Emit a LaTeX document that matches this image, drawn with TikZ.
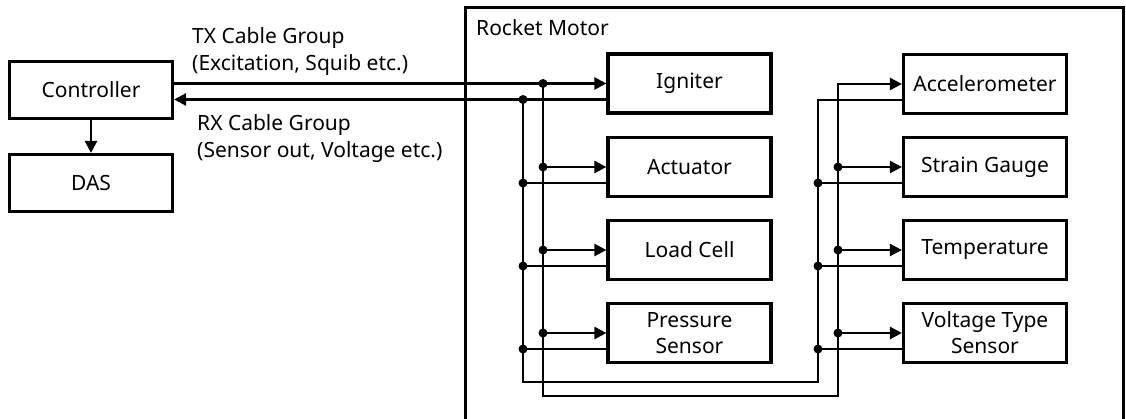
\documentclass[tikz,border=0pt]{standalone}
\usepackage{fontspec}
\setmainfont{Noto Sans}
\usetikzlibrary{arrows.meta,calc}
\begin{document}
\begin{tikzpicture}[x=1pt,y=-1pt,
  blk/.style={draw, line width=3.2pt, minimum width=163pt, minimum height=59pt, inner sep=0pt, align=center, font=\fontsize{21}{26}\selectfont},
  lbl/.style={inner sep=0pt, align=left, font=\fontsize{21}{27}\selectfont},
  wire/.style={line width=2.5pt},
  arr/.style={wire, -{Triangle[length=12pt,width=12pt]}},
  jdot/.style={circle, fill, inner sep=0pt, minimum size=9pt}
]
\useasboundingbox (0,0) rectangle (1126,419);
\clip (0,0) rectangle (1126,419);
% outer box
\draw[line width=3pt] (465,430) -- (465,8) -- (1123,8) -- (1123,430);
\node[lbl, anchor=west] (rm) at (476,28) {Rocket Motor};
% left blocks
\node[blk, minimum height=57pt] (ctrl) at (91,90) {Controller};
\node[blk, minimum height=57pt] (das) at (91,183) {DAS};
\node[blk] (ign) at (689.5,83.5) {Igniter};
\node[blk] (act) at (689.5,167) {Actuator};
\node[blk] (lc) at (689.5,250) {Load Cell};
\node[blk] (ps) at (689.5,333) {Pressure\\Sensor};
\node[blk] (acc) at (985,84) {Accelerometer};
\node[blk] (sg) at (985,167) {Strain Gauge};
\node[blk] (tmp) at (985,250) {Temperature};
\node[blk] (vts) at (985,333) {Voltage Type\\Sensor};
% labels
\node[lbl, anchor=west] (txl) at (192,51.5) {TX Cable Group\\(Excitation, Squib etc.)};
\node[lbl, anchor=west] (rxl) at (197,138.5) {RX Cable Group\\(Sensor out, Voltage etc.)};
% bus x/y coordinates
\coordinate (txL) at (543,0);
\coordinate (rxL) at (523,0);
\coordinate (txR) at (838,0);
\coordinate (rxR) at (818,0);
\coordinate (txB) at (0,396);
\coordinate (rxB) at (0,382);
\foreach \b in {ign,act,lc,ps,acc,sg,tmp,vts}{
  \coordinate (\b rx) at ($(\b.west)+(0,16)$);
}
% controller to DAS
\draw[arr] (ctrl) -- (das);
% main TX / RX
\draw[arr] (ctrl.east |- ign.west) -- (ign.west);
\draw[arr] (ignrx) -- (ctrl.east |- ignrx);
% TX bus
\draw[arr] (txL |- ign.west) -- (txL |- txB) -- (txR |- txB) -- (txR |- acc.west) -- (acc.west);
% RX bus
\draw[wire] (accrx) -- (rxR |- accrx) -- (rxR |- rxB) -- (rxL |- rxB) -- (rxL |- ignrx);
% branches left
\foreach \b in {act,lc,ps}{
  \draw[arr] (txL |- \b.west) -- (\b.west);
  \draw[wire] (\b rx) -- (rxL |- \b rx);
  \node[jdot] (d\b t) at (txL |- \b.west) {};
  \node[jdot] (d\b r) at (rxL |- \b rx) {};
}
\node[jdot] (dignt) at (txL |- ign.west) {};
\node[jdot] (dignr) at (rxL |- ignrx) {};
% branches right
\foreach \b in {sg,tmp,vts}{
  \draw[arr] (txR |- \b.west) -- (\b.west);
  \draw[wire] (\b rx) -- (rxR |- \b rx);
  \node[jdot] (d\b t) at (txR |- \b.west) {};
  \node[jdot] (d\b r) at (rxR |- \b rx) {};
}
\end{tikzpicture}
\end{document}
